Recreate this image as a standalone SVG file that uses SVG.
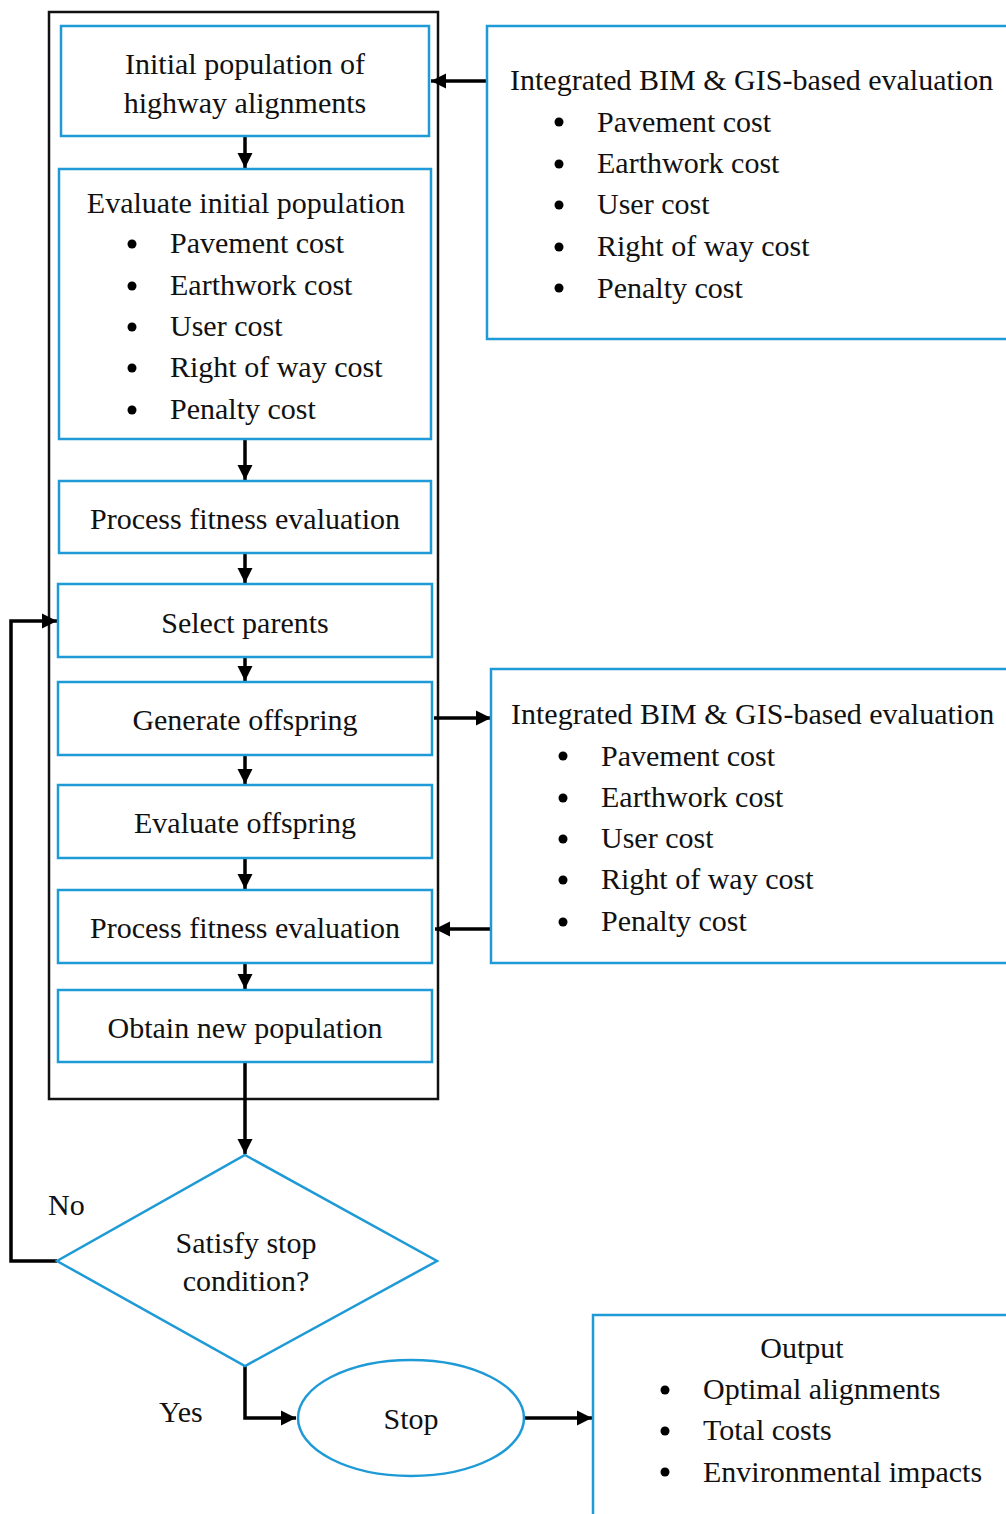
<svg xmlns="http://www.w3.org/2000/svg" width="1006" height="1514" viewBox="0 0 1006 1514">
  <style>
    text { font-family: "Liberation Serif", "Times New Roman", serif; font-size: 30px; fill: #111; }
    .c { text-anchor: middle; }
    .box { fill: #fff; stroke: #1e9ad6; stroke-width: 2.5; }
    .frame { fill: none; stroke: #111; stroke-width: 2.5; }
    .wire { fill: none; stroke: #000; stroke-width: 3.5; }
    .dot { fill: #000; }
  </style>
  <defs>
    <marker id="head" viewBox="0 0 10 10" refX="10" refY="5" markerWidth="4.4" markerHeight="4.4" markerUnits="strokeWidth" orient="auto">
      <path d="M0,0 L10,5 L0,10 z" fill="#000"/>
    </marker>
  </defs>
  <rect width="1006" height="1514" fill="#fff"/>

  <!-- genetic algorithm loop frame -->
  <rect class="frame" x="49" y="12" width="389" height="1087"/>

  <!-- connectors -->
  <g id="connectors">
    <line class="wire" x1="245" y1="137" x2="245" y2="168" marker-end="url(#head)"/>
    <line class="wire" x1="245" y1="440" x2="245" y2="480" marker-end="url(#head)"/>
    <line class="wire" x1="245" y1="554" x2="245" y2="583" marker-end="url(#head)"/>
    <line class="wire" x1="245" y1="658" x2="245" y2="681" marker-end="url(#head)"/>
    <line class="wire" x1="245" y1="756" x2="245" y2="784" marker-end="url(#head)"/>
    <line class="wire" x1="245" y1="859" x2="245" y2="889" marker-end="url(#head)"/>
    <line class="wire" x1="245" y1="964" x2="245" y2="989" marker-end="url(#head)"/>
    <line class="wire" x1="245" y1="1063" x2="245" y2="1154" marker-end="url(#head)"/>
    <line class="wire" x1="487" y1="81" x2="431" y2="81" marker-end="url(#head)"/>
    <line class="wire" x1="434" y1="718" x2="491" y2="718" marker-end="url(#head)"/>
    <line class="wire" x1="491" y1="929" x2="435" y2="929" marker-end="url(#head)"/>
    <polyline class="wire" points="57,1261 11,1261 11,621 57,621" marker-end="url(#head)"/>
    <polyline class="wire" points="245,1366 245,1418 296,1418" marker-end="url(#head)"/>
    <line class="wire" x1="525" y1="1418" x2="592" y2="1418" marker-end="url(#head)"/>
  </g>

  <g id="initial-population">
    <rect class="box" x="61" y="26" width="368" height="110"/>
    <text class="c" x="245" y="74">Initial population of</text>
    <text class="c" x="245" y="113">highway alignments</text>
  </g>

  <g id="evaluate-initial">
    <rect class="box" x="59" y="169" width="372" height="270"/>
    <text class="c" x="246" y="213">Evaluate initial population</text>
    <circle class="dot" cx="132" cy="244" r="4.5"/>
    <circle class="dot" cx="132" cy="286" r="4.5"/>
    <circle class="dot" cx="132" cy="327" r="4.5"/>
    <circle class="dot" cx="132" cy="368" r="4.5"/>
    <circle class="dot" cx="132" cy="410" r="4.5"/>
    <text x="170" y="253">Pavement cost</text>
    <text x="170" y="295">Earthwork cost</text>
    <text x="170" y="336">User cost</text>
    <text x="170" y="377">Right of way cost</text>
    <text x="170" y="419">Penalty cost</text>
  </g>

  <g id="fitness-1">
    <rect class="box" x="59" y="481" width="372" height="72"/>
    <text class="c" x="245" y="529">Process fitness evaluation</text>
  </g>

  <g id="select-parents">
    <rect class="box" x="58" y="584" width="374" height="73"/>
    <text class="c" x="245" y="633">Select parents</text>
  </g>

  <g id="generate-offspring">
    <rect class="box" x="58" y="682" width="374" height="73"/>
    <text class="c" x="245" y="730">Generate offspring</text>
  </g>

  <g id="evaluate-offspring">
    <rect class="box" x="58" y="785" width="374" height="73"/>
    <text class="c" x="245" y="833">Evaluate offspring</text>
  </g>

  <g id="fitness-2">
    <rect class="box" x="58" y="890" width="374" height="73"/>
    <text class="c" x="245" y="938">Process fitness evaluation</text>
  </g>

  <g id="new-population">
    <rect class="box" x="58" y="990" width="374" height="72"/>
    <text class="c" x="245" y="1038">Obtain new population</text>
  </g>

  <g id="bim-gis-1">
    <rect class="box" x="487" y="26" width="530" height="313"/>
    <text x="510" y="90">Integrated BIM &amp; GIS-based evaluation</text>
    <circle class="dot" cx="559" cy="122" r="4.5"/>
    <circle class="dot" cx="559" cy="164" r="4.5"/>
    <circle class="dot" cx="559" cy="205" r="4.5"/>
    <circle class="dot" cx="559" cy="247" r="4.5"/>
    <circle class="dot" cx="559" cy="288" r="4.5"/>
    <text x="597" y="132">Pavement cost</text>
    <text x="597" y="173">Earthwork cost</text>
    <text x="597" y="214">User cost</text>
    <text x="597" y="256">Right of way cost</text>
    <text x="597" y="298">Penalty cost</text>
  </g>

  <g id="bim-gis-2">
    <rect class="box" x="491" y="669" width="526" height="294"/>
    <text x="511" y="724">Integrated BIM &amp; GIS-based evaluation</text>
    <circle class="dot" cx="563" cy="756" r="4.5"/>
    <circle class="dot" cx="563" cy="798" r="4.5"/>
    <circle class="dot" cx="563" cy="839" r="4.5"/>
    <circle class="dot" cx="563" cy="880" r="4.5"/>
    <circle class="dot" cx="563" cy="922" r="4.5"/>
    <text x="601" y="766">Pavement cost</text>
    <text x="601" y="807">Earthwork cost</text>
    <text x="601" y="848">User cost</text>
    <text x="601" y="889">Right of way cost</text>
    <text x="601" y="931">Penalty cost</text>
  </g>

  <g id="stop-condition">
    <polygon class="box" points="245,1155 437,1261 245,1366 57,1261"/>
    <text class="c" x="246" y="1253">Satisfy stop</text>
    <text class="c" x="246" y="1291">condition?</text>
  </g>

  <g id="label-no">
    <text x="48" y="1215">No</text>
  </g>

  <g id="label-yes">
    <text x="159" y="1422">Yes</text>
  </g>

  <g id="stop">
    <ellipse class="box" cx="411" cy="1418" rx="113" ry="58"/>
    <text class="c" x="411" y="1429">Stop</text>
  </g>

  <g id="output">
    <rect class="box" x="593" y="1315" width="430" height="220"/>
    <text class="c" x="802" y="1358">Output</text>
    <circle class="dot" cx="665" cy="1390" r="4.5"/>
    <circle class="dot" cx="665" cy="1431" r="4.5"/>
    <circle class="dot" cx="665" cy="1472" r="4.5"/>
    <text x="703" y="1399">Optimal alignments</text>
    <text x="703" y="1440">Total costs</text>
    <text x="703" y="1482">Environmental impacts</text>
  </g>
</svg>
